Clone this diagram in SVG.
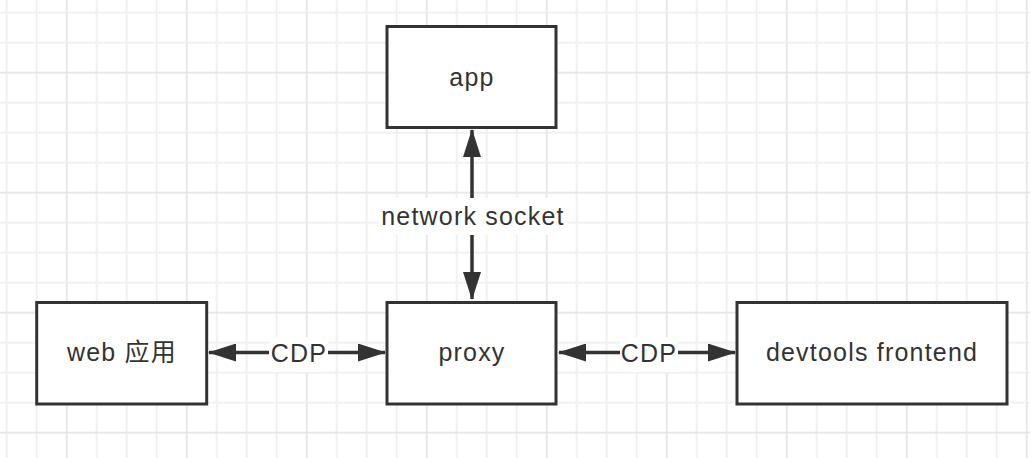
<svg xmlns="http://www.w3.org/2000/svg" width="1030" height="458" viewBox="0 0 1030 458">
  <style>
    .box { fill: #ffffff; stroke: #333333; stroke-width: 3; }
    .lbl { font-family: "Liberation Sans", Arial, "Noto Sans CJK SC", sans-serif; font-size: 25px; letter-spacing: 1.2px; fill: #333333; text-anchor: middle; }
    .edge { stroke: #333333; stroke-width: 3.5; fill: none; }
    .lblbg { fill: #ffffff; }
  </style>
  <defs>
    <pattern id="grid" patternUnits="userSpaceOnUse" x="-8.3" y="-2.3" width="120" height="120">
      <g stroke="#f1f1f1" stroke-width="2">
        <line x1="15" y1="0" x2="15" y2="120"/>
        <line x1="45" y1="0" x2="45" y2="120"/>
        <line x1="105" y1="0" x2="105" y2="120"/>
        <line x1="0" y1="15" x2="120" y2="15"/>
        <line x1="0" y1="45" x2="120" y2="45"/>
        <line x1="0" y1="105" x2="120" y2="105"/>
      </g>
      <g stroke="#e8e8e8" stroke-width="2">
        <line x1="75" y1="0" x2="75" y2="120"/>
        <line x1="0" y1="75" x2="120" y2="75"/>
      </g>
    </pattern>
    <marker id="arr" markerUnits="userSpaceOnUse" markerWidth="28" markerHeight="18" refX="27" refY="9" orient="auto-start-reverse" viewBox="0 0 28 18">
      <path d="M0,0 L28,9 L0,18 Z" fill="#333333"/>
    </marker>
  </defs>
  <rect x="0" y="0" width="1030" height="458" fill="#ffffff"/>
  <rect x="0" y="0" width="1030" height="458" fill="url(#grid)"/>

  <g id="connectors">
    <g id="edge-app-proxy">
      <line class="edge" x1="472" y1="130" x2="472" y2="299" marker-start="url(#arr)" marker-end="url(#arr)"/>
      <rect class="lblbg" x="379" y="198" width="189" height="37"/>
      <text class="lbl" x="473" y="225">network socket</text>
    </g>
    <g id="edge-web-proxy">
      <line class="edge" x1="209" y1="352.5" x2="385" y2="352.5" marker-start="url(#arr)" marker-end="url(#arr)"/>
      <rect class="lblbg" x="269" y="337" width="59" height="35"/>
      <text class="lbl" x="299" y="362">CDP</text>
    </g>
    <g id="edge-proxy-devtools">
      <line class="edge" x1="559" y1="352.5" x2="735" y2="352.5" marker-start="url(#arr)" marker-end="url(#arr)"/>
      <rect class="lblbg" x="620" y="337" width="58" height="35"/>
      <text class="lbl" x="649" y="362">CDP</text>
    </g>
  </g>

  <g id="node-app">
    <rect class="box" x="387" y="26.5" width="169" height="101"/>
    <text class="lbl" x="472" y="85.5">app</text>
  </g>
  <g id="node-proxy">
    <rect class="box" x="387" y="302.5" width="169" height="101.5"/>
    <text class="lbl" x="472" y="361">proxy</text>
  </g>
  <g id="node-web">
    <rect class="box" x="36.7" y="302.5" width="170" height="101.5"/>
    <text class="lbl" x="122" y="361">web 应用</text>
  </g>
  <g id="node-devtools">
    <rect class="box" x="737" y="302.5" width="270" height="101.5"/>
    <text class="lbl" x="872" y="361">devtools frontend</text>
  </g>
</svg>
